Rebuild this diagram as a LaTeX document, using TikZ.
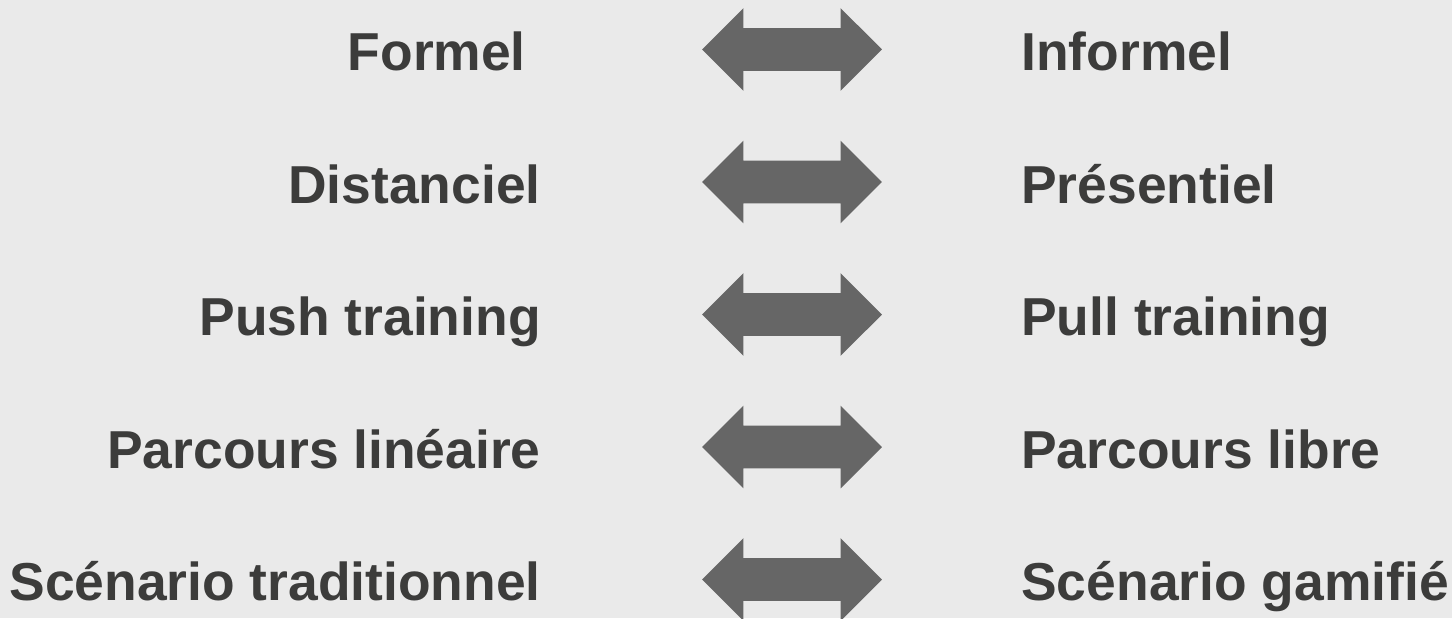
\documentclass[tikz,border=0pt]{standalone}
\usepackage{fontspec}
\setmainfont{Liberation Sans}
\usetikzlibrary{shapes.arrows}
\definecolor{bgcol}{HTML}{EAEAEA}
\definecolor{txtcol}{HTML}{3C3C3B}
\definecolor{arrcol}{HTML}{666666}

\begin{document}
\begin{tikzpicture}[x=0.02cm,y=-0.02cm,
		lbl/.style={inner sep=0,text=txtcol,font=\bfseries\fontsize{30.4}{36}\selectfont},
		twoway/.style={double arrow,fill=arrcol,draw=none,inner xsep=0,inner ysep=0.42cm,
			minimum height=3.6cm,minimum width=0,
			double arrow head extend=0.4cm,double arrow tip angle=90}]
			\fill[bgcol] (0,0) rectangle (1452,618);
			\useasboundingbox (0,0) rectangle (1452,618);
			
			\foreach \lft/\rgt [count=\i from 0] in {{Formel\kern0.278em}/Informel, Distanciel/Présentiel, Push training/Pull training, Parcours linéaire/Parcours libre, Scénario traditionnel/Scénario gamifié} {
				\node[lbl,anchor=base east] (l\i) at (541, 70.5 + 132.5 * \i) {\lft};
				\node[lbl,anchor=base west] (r\i) at (1021, 70.5 + 132.5 * \i) {\rgt};
				\node[twoway] (a\i) at (792, 49.5 + 132.5 * \i) {};
			}
		\end{tikzpicture}
\end{document}
